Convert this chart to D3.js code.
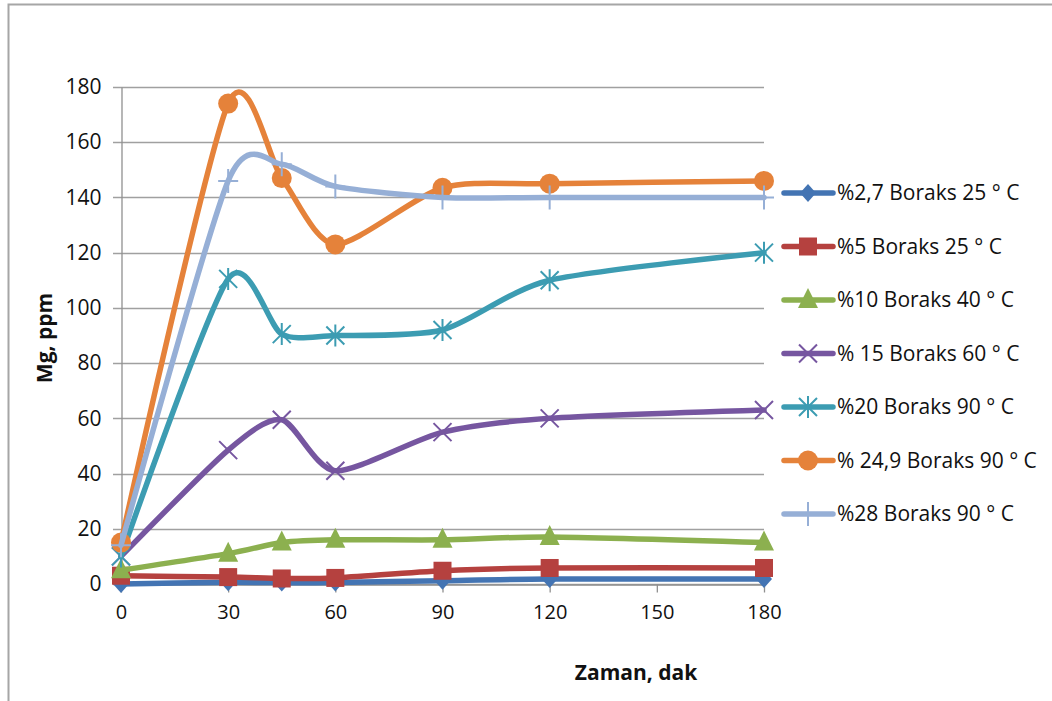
<!DOCTYPE html>
<html><head><meta charset="utf-8">
<script src="https://cdn.jsdelivr.net/npm/d3@7"></script>
<style>body{margin:0;background:#fff}svg{display:block}</style>
</head><body>
<svg id="c" width="1052" height="701"></svg>
<script>
const times = [0, 30, 45, 60, 90, 120, 180];
const xTicks = [0, 30, 60, 90, 120, 150, 180];
const yTicks = [0, 20, 40, 60, 80, 100, 120, 140, 160, 180];
const seriesNames = ["%2,7 Boraks 25 ° C", "%5 Boraks 25 ° C", "%10 Boraks 40 ° C", "% 15 Boraks 60 ° C", "%20 Boraks 90 ° C", "% 24,9 Boraks 90 ° C", "%28 Boraks 90 ° C"];
const s27 = [0, 0.6, 0.5, 0.5, 1.2, 1.8, 1.8];
const s5 = [3, 2.5, 2, 2.2, 4.8, 5.8, 5.8];
const s10 = [5, 11, 15, 16, 16, 17, 15];
const s15 = [10, 48.5, 59.5, 41, 55, 60, 63];
const s20 = [10, 110.5, 90.5, 90, 92, 110, 120];
const s249 = [15, 174, 147, 123, 143.5, 145, 146];
const s28 = [14, 146, 152, 144, 140, 140, 140];
const seriesValues = [s27, s5, s10, s15, s20, s249, s28];
const colors = ["#4374b3", "#b5413f", "#8cb04f", "#7656a0", "#3c9cb2", "#e5823a", "#96afd6"];
const markers = ["diamond", "square", "triangle", "x", "asterisk", "circle", "plus"];

const svg = d3.select("#c");
svg.append("path").attr("d", "M8.5,701 V4.5 H1052").attr("fill", "none").attr("stroke", "#a6a6a6").attr("stroke-width", 2);

const x = d3.scaleLinear().domain([0, 180]).range([121, 764]);
const y = d3.scaleLinear().domain([0, 180]).range([584, 87]);
const font = "'Liberation Sans Narrow', 'Open Sans', sans-serif";

svg.append("g").selectAll("line").data(yTicks).join("line")
  .attr("x1", 113).attr("x2", 764)
  .attr("y1", d => Math.round(y(d)) + 0.5).attr("y2", d => Math.round(y(d)) + 0.5)
  .attr("stroke", "#a0a0a0").attr("stroke-width", 1.3);

const yAxis = svg.append("g").attr("transform", "translate(121.5,0)")
  .call(d3.axisLeft(y).tickValues(yTicks).tickSize(0).tickPadding(20));
yAxis.select(".domain").attr("stroke", "#909090").attr("stroke-width", 1.3);
yAxis.selectAll("text").attr("font-family", font).attr("font-size", 21).attr("fill", "#111");

const xAxis = svg.append("g").attr("transform", "translate(0,584.5)")
  .call(d3.axisBottom(x).tickValues(xTicks).tickSize(8).tickSizeOuter(0).tickPadding(12));
xAxis.select(".domain").attr("stroke", "#909090").attr("stroke-width", 1.3);
xAxis.selectAll("line").attr("stroke", "#909090").attr("stroke-width", 1.3);
xAxis.selectAll("text").attr("font-family", font).attr("font-size", 20).attr("fill", "#111");

svg.append("text").attr("x", 636).attr("y", 680).attr("text-anchor", "middle")
  .attr("font-family", font).attr("font-weight", "bold").attr("font-size", 21)
  .attr("fill", "#111").text("Zaman, dak");
svg.append("text").attr("transform", "translate(52,338) rotate(-90)").attr("text-anchor", "middle")
  .attr("font-family", font).attr("font-weight", "bold").attr("font-size", 21)
  .attr("fill", "#111").text("Mg, ppm");

function drawMarker(g, type, cx, cy, color) {
  if (type === "diamond") {
    g.append("path").attr("d", `M${cx},${cy-9}L${cx+8},${cy}L${cx},${cy+9}L${cx-8},${cy}Z`).attr("fill", color);
  } else if (type === "square") {
    g.append("rect").attr("x", cx-9).attr("y", cy-9).attr("width", 18).attr("height", 18).attr("fill", color);
  } else if (type === "triangle") {
    g.append("path").attr("d", `M${cx},${cy-12}L${cx+10},${cy+8}L${cx-10},${cy+8}Z`).attr("fill", color);
  } else if (type === "circle") {
    g.append("circle").attr("cx", cx).attr("cy", cy).attr("r", 10).attr("fill", color);
  } else if (type === "x") {
    g.append("path").attr("d", `M${cx-9},${cy-9}L${cx+9},${cy+9}M${cx+9},${cy-9}L${cx-9},${cy+9}`).attr("stroke", color).attr("stroke-width", 2);
  } else if (type === "asterisk") {
    g.append("path").attr("d", `M${cx-9},${cy-9}L${cx+9},${cy+9}M${cx+9},${cy-9}L${cx-9},${cy+9}M${cx},${cy-11}L${cx},${cy+11}`).attr("stroke", color).attr("stroke-width", 2);
  } else if (type === "plus") {
    g.append("path").attr("d", `M${cx-10},${cy}L${cx+10},${cy}M${cx},${cy-12}L${cx},${cy+12}`).attr("stroke", color).attr("stroke-width", 2);
  }
}

const line = d3.line().x(d => x(d[0])).y(d => y(d[1])).curve(d3.curveCardinal.tension(0.25));

seriesValues.forEach((vals, i) => {
  const g = svg.append("g");
  const pts = times.map((t, j) => [t, vals[j]]);
  g.append("path").attr("d", line(pts)).attr("fill", "none").attr("stroke", colors[i])
    .attr("stroke-width", 5.5).attr("stroke-linejoin", "round").attr("stroke-linecap", "round");
  pts.forEach(p => drawMarker(g, markers[i], x(p[0]), y(p[1]), colors[i]));
});

const legend = svg.append("g");
seriesNames.forEach((name, i) => {
  const cy = 193 + i * 53.5;
  const g = legend.append("g");
  g.append("line").attr("x1", 784).attr("x2", 833).attr("y1", cy).attr("y2", cy)
    .attr("stroke", colors[i]).attr("stroke-width", 5.5).attr("stroke-linecap", "round");
  drawMarker(g, markers[i], 808, cy, colors[i]);
  g.append("text").attr("x", 837).attr("y", cy + 7).attr("font-family", font)
    .attr("font-size", 21).attr("fill", "#111").text(name);
});
</script>
</body></html>
